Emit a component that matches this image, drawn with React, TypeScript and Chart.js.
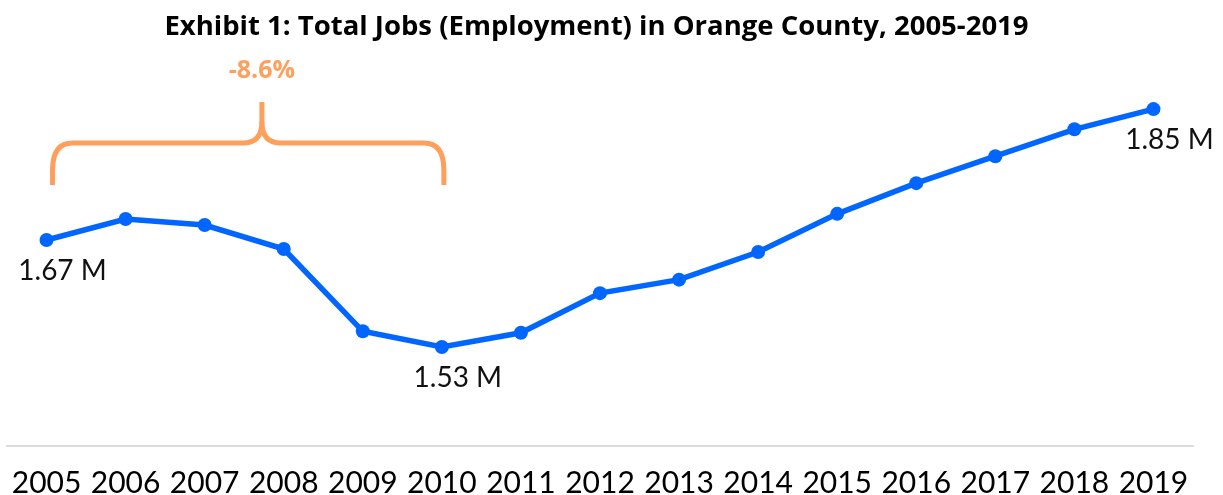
import React, { useEffect, useRef } from 'react';
import { Chart, registerables } from 'chart.js';

Chart.register(...registerables);

const titleText = 'Exhibit 1: Total Jobs (Employment) in Orange County, 2005-2019';
const years = ['2005', '2006', '2007', '2008', '2009', '2010', '2011', '2012', '2013', '2014', '2015', '2016', '2017', '2018', '2019'];
const jobsMillions = [1.670, 1.698, 1.690, 1.658, 1.548, 1.527, 1.546, 1.599, 1.617, 1.654, 1.705, 1.746, 1.782, 1.818, 1.845];
const pointLabels = ['1.67 M', '', '', '', '', '1.53 M', '', '', '', '', '', '', '', '', '1.85 M'];
const changeLabel = '-8.6%';
const changeFromIndex = 0;
const changeToIndex = 5;
const yMin = 1.3947;
const yMax = 1.9106;

const BLUE = '#0066ff';
const ORANGE = '#fea05c';
const FONT = 'Lato';
const BOLD_FONT = '"Open Sans"';

const pointLabelPlugin = {
  id: 'pointLabelPlugin',
  afterDatasetsDraw(chart: any) {
    const meta = chart.getDatasetMeta(0);
    const ctx = chart.ctx;
    ctx.save();
    ctx.font = `28px ${FONT}`;
    ctx.fillStyle = '#111111';
    ctx.textAlign = 'center';
    ctx.textBaseline = 'middle';
    pointLabels.forEach((lbl, i) => {
      if (!lbl) return;
      const el = meta.data[i];
      ctx.fillText(lbl, el.x + 16, el.y + 31);
    });
    ctx.restore();
  },
};

const bracePlugin = {
  id: 'bracePlugin',
  afterDraw(chart: any) {
    const xs = chart.scales.x;
    const ctx = chart.ctx;
    const x1 = xs.getPixelForValue(changeFromIndex) + 6;
    const x2 = xs.getPixelForValue(changeToIndex) + 2;
    const xm = x1 + (x2 - x1) * 0.535;
    const yBottom = 185;
    const yH = 143;
    const yTip = 102;
    ctx.save();
    ctx.strokeStyle = ORANGE;
    ctx.lineWidth = 5;
    ctx.lineCap = 'butt';
    ctx.lineJoin = 'round';
    ctx.beginPath();
    ctx.moveTo(x1, yBottom);
    ctx.lineTo(x1, 170);
    ctx.quadraticCurveTo(x1, yH, x1 + 20, yH);
    ctx.lineTo(xm - 19, yH);
    ctx.quadraticCurveTo(xm, yH, xm, 122);
    ctx.lineTo(xm, yTip);
    ctx.stroke();
    ctx.beginPath();
    ctx.moveTo(xm, 122);
    ctx.quadraticCurveTo(xm, yH, xm + 19, yH);
    ctx.lineTo(x2 - 20, yH);
    ctx.quadraticCurveTo(x2, yH, x2, 170);
    ctx.lineTo(x2, yBottom);
    ctx.stroke();
    ctx.font = `bold 25px ${BOLD_FONT}`;
    ctx.fillStyle = ORANGE;
    ctx.textAlign = 'center';
    ctx.textBaseline = 'middle';
    ctx.fillText(changeLabel, xm, 71);
    ctx.restore();
  },
};

export default function App() {
  const canvasRef = useRef<HTMLCanvasElement | null>(null);

  useEffect(() => {
    if (!canvasRef.current) return;
    const chart = new Chart(canvasRef.current, {
      type: 'line',
      data: {
        labels: years,
        datasets: [
          {
            data: jobsMillions,
            borderColor: BLUE,
            backgroundColor: BLUE,
            borderWidth: 5.5,
            pointRadius: 7,
            pointBorderWidth: 0,
            pointBackgroundColor: BLUE,
            tension: 0,
            fill: false,
          },
        ],
      },
      options: {
        responsive: false,
        animation: false,
        layout: { padding: { left: 0, right: 30, top: 0, bottom: -25 } },
        plugins: {
          legend: { display: false },
          tooltip: { enabled: false },
          title: {
            display: true,
            text: titleText,
            color: '#000000',
            font: { family: BOLD_FONT, size: 27.5, weight: 'bold', lineHeight: 1.2 },
            padding: { top: 10.5, bottom: 16.5 },
          },
        },
        scales: {
          x: {
            type: 'category',
            offset: true,
            grid: { display: false, drawTicks: false },
            border: { display: true, color: '#dcdcdc', width: 2 },
            ticks: {
              autoSkip: false,
              maxRotation: 0,
              padding: 0,
              color: '#000000',
              font: { family: FONT, size: 30, lineHeight: 74 / 30 },
            },
          },
          y: { display: false, min: yMin, max: yMax },
        },
      },
      plugins: [pointLabelPlugin, bracePlugin],
    });
    return () => chart.destroy();
  }, []);

  return (
    <div style={{ position: 'absolute', left: 0, top: 0, width: 1223, height: 495, background: '#ffffff' }}>
      <canvas ref={canvasRef} width={1223} height={495} style={{ display: 'block' }} />
    </div>
  );
}
